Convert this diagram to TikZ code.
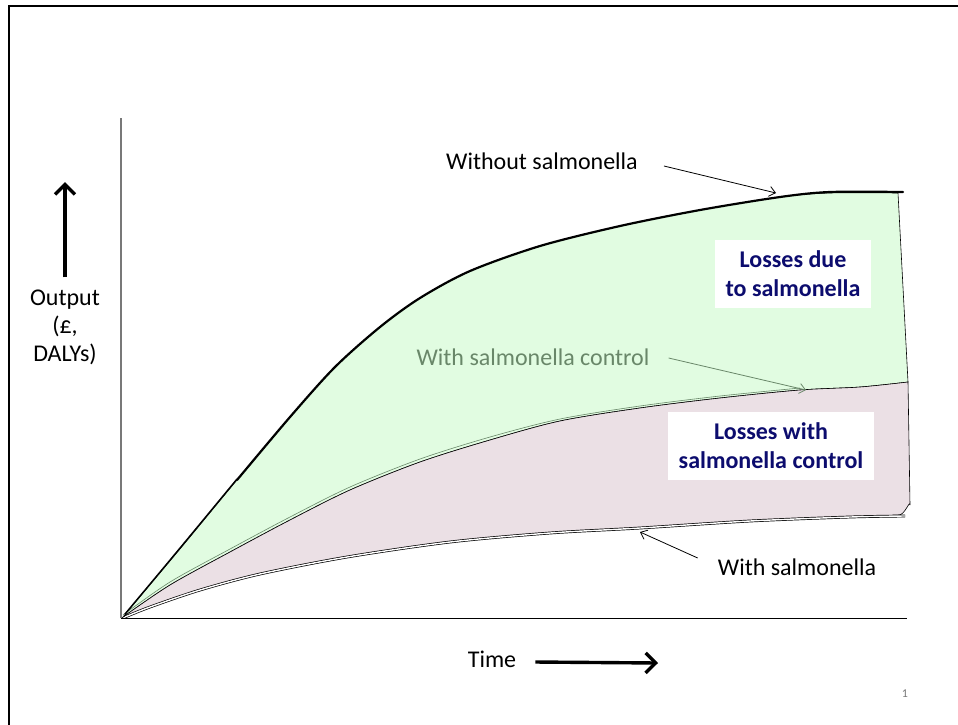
\documentclass[tikz,border=0pt]{standalone}
\usepackage{fontspec}
\setmainfont{Carlito}
\usetikzlibrary{arrows.meta}
\definecolor{gainfill}{RGB}{225,252,225}
\definecolor{lossfill}{RGB}{235,224,229}
\definecolor{ctrltext}{RGB}{105,135,105}
\definecolor{navytext}{RGB}{12,12,110}
\definecolor{axisgray}{RGB}{120,120,120}
\begin{document}
\begin{tikzpicture}[x=1pt,y=-1pt,
  lbl/.style={font=\fontsize{24}{28}\selectfont, inner sep=0pt, align=center},
  losslbl/.style={font=\fontsize{24}{29}\selectfont\bfseries, fill=white, text=navytext,
    align=center, inner sep=0pt, minimum height=68pt},
  pointer/.style={-{Straight Barb[length=6pt,width=10pt]}, line width=0.8pt},
  bigarrow/.style={-{Straight Barb[length=10pt,width=20pt]}, line width=3.4pt},
  edge/.style={line width=0.6pt, draw=black}]
\useasboundingbox (0,0) rectangle (958,724);

% slide frame (top and left edges)
\draw[line width=2.6pt] (9,726) -- (9,6) -- (960,6);

% region between "without" and "with control" curves
\filldraw[fill=gainfill, edge]
  plot[smooth] coordinates {(123,617) (180,549) (237,480) (290,417) (335,367) (380,327)
    (420,298) (470,271) (540,246) (620,226) (700,210) (780,197) (830,193) (898,193)}
  -- (908,382)
  -- plot[smooth] coordinates {(908,382) (860,387) (800,390) (720,398) (640,408) (560,421)
    (490,440) (420,462) (350,490) (290,520) (230,552) (170,585) (123,617)}
  -- cycle;

% region between "with control" and "with salmonella" curves
\filldraw[fill=lossfill, edge]
  plot[smooth] coordinates {(123,617) (170,585) (230,552) (290,520) (350,490)
    (420,462) (490,440) (560,421) (640,408) (720,398) (800,390) (860,387) (908,382)}
  -- (910,505) to[out=90,in=0] (899,515)
  -- plot[smooth] coordinates {(899,515) (850,517) (750,521) (640,528) (550,533) (450,542)
    (347,557) (260,574) (200,590) (150,607) (123,617)}
  -- cycle;

% sketch strokes along the curves
\draw[ctrltext, line width=0.6pt]
  plot[smooth] coordinates {(123,615) (170,582) (230,549) (290,517) (350,487)
    (420,459) (490,437) (560,419) (640,406) (720,396) (800,388)};
\draw[line width=1.4pt, line cap=round]
  plot[smooth] coordinates {(125,614) (180,548) (237,479)};
\draw[line width=2.2pt, line cap=round]
  plot[smooth] coordinates {(237,480) (290,417) (335,367) (380,327)
    (420,298) (470,271) (540,246) (620,226) (700,210) (780,197) (830,192) (903,192)};
\draw[line width=0.7pt, double=white, double distance=1.4pt]
  plot[smooth] coordinates {(125,617) (150,607) (200,590) (260,574) (347,557) (450,542)
    (550,533) (640,528) (750,521) (850,517) (905,516)};

% axes
\draw[axisgray, line width=1.2pt] (121,118) -- (121,618);
\draw[line width=1pt] (121,618) -- (907,618);

% curve labels and pointers
\node[lbl] (wo) at (542,161) {Without salmonella};
\coordinate (woTip) at (776,193);
\draw[pointer] ([shift={(26,5)}]wo.east) -- (woTip);

\node[lbl, text=ctrltext] (ctrl) at (533,357) {With salmonella control};
\coordinate (ctrlTip) at (806,390);
\draw[pointer, ctrltext] ([shift={(19,1)}]ctrl.east) -- (ctrlTip);

\node[lbl] (with) at (797,567) {With salmonella};
\coordinate (withTip) at (640,532);
\draw[pointer] ([shift={(-20,-9)}]with.west) -- (withTip);

% loss labels
\node[losslbl, minimum width=156pt] (lossA) at (793,274) {Losses due\\to salmonella};
\node[losslbl, minimum width=206pt] (lossB) at (771,446) {Losses with\\salmonella control};

% axis captions
\node[lbl] (out) at (65,327) {Output\\(£,\\DALYs)};
\coordinate (outTip) at (65,182);
\draw[bigarrow] ([shift={(0,-12)}]out.north) -- (outTip);

\node[lbl] (time) at (492,659) {Time};
\coordinate (timeTip) at (658,663);
\draw[bigarrow] ([shift={(19,3)}]time.east) -- (timeTip);

% page number
\node[font=\fontsize{12}{14}\selectfont, text=axisgray, inner sep=0pt] (pg) at (905,694) {1};
\end{tikzpicture}
\end{document}
